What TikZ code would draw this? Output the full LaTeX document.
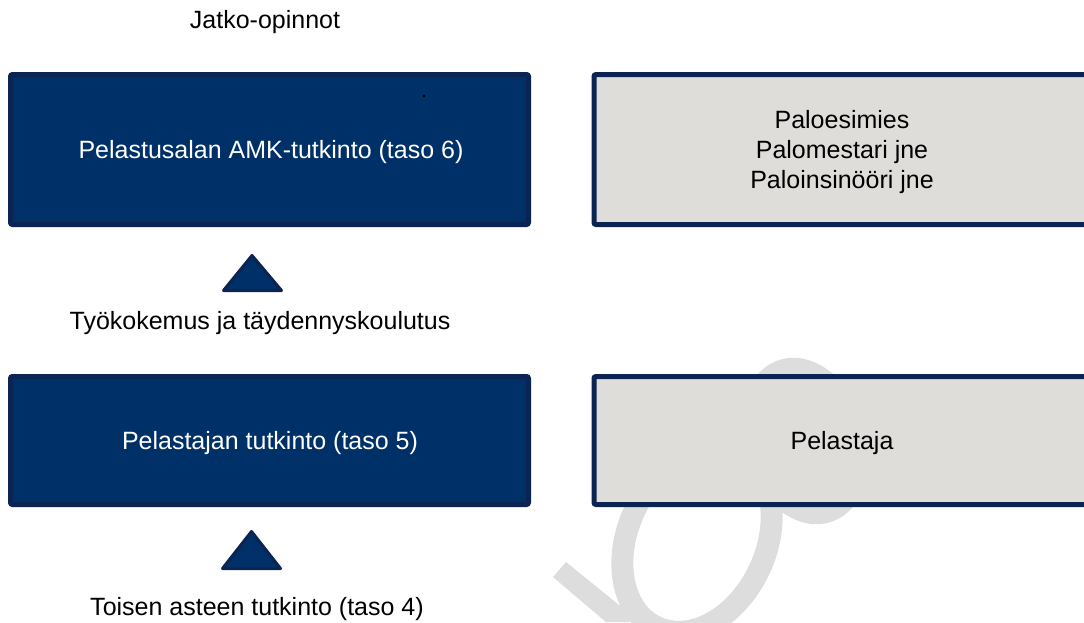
\documentclass[tikz,border=0pt]{standalone}
\usepackage{fontspec}
\setmainfont{Liberation Sans}
\definecolor{navy}{HTML}{003068}
\definecolor{navyline}{HTML}{0B2452}
\definecolor{boxgrey}{HTML}{DEDDD9}
\definecolor{wmgrey}{HTML}{DDDDDD}
\tikzset{
  lbl/.style={font=\fontsize{25}{30.5}\selectfont, inner sep=0pt, anchor=base},
  darkbox/.style={draw=navyline, fill=navy, line width=5pt, rounded corners=2pt, minimum width=518pt, inner sep=0pt},
  greybox/.style={draw=navyline, fill=boxgrey, line width=5pt, rounded corners=2pt, minimum width=519pt, inner sep=0pt},
  uptri/.style={draw=navyline, fill=navy, line width=3pt, line join=round},
  wm/.style={fill=wmgrey}
}
\begin{document}
\begin{tikzpicture}[x=1pt,y=-1pt]
\useasboundingbox (0,0) rectangle (1084,622);
\clip (0,0) rectangle (1084,622);
\fill[white] (0,0) rectangle (1084,622);
% watermark
\begin{scope}[shift={(697,540)}, rotate=-25]
\fill[wm, even odd rule] (0,0) ellipse [x radius=80, y radius=108]
                         (0,0) ellipse [x radius=58, y radius=85];
\end{scope}
\begin{scope}[shift={(805,441)}, rotate=17.5]
\fill[wm] (0,0) ellipse [x radius=62, y radius=85];
\end{scope}
\fill[wm] (553,577) -- (566,562) -- (640,622) -- (606,622) -- cycle;
% boxes
\node[darkbox, minimum height=150pt] (amk) at (269.5,149.5) {};
\node[greybox, minimum height=150pt] (ura2) at (853.5,149.5) {};
\node[darkbox, minimum height=128pt] (pel) at (269.5,440.5) {};
\node[greybox, minimum height=128pt] (ura1) at (853.5,440.5) {};
\fill[black] (423,95) rectangle (425,97);
% triangles
\coordinate (t1a) at (252,255.5);
\coordinate (t1l) at (223.5,290.5);
\coordinate (t1r) at (281.5,290.5);
\draw[uptri] (t1a) -- (t1r) -- (t1l) -- cycle;
\coordinate (t2a) at (251.5,531.5);
\coordinate (t2l) at (222.5,568.5);
\coordinate (t2r) at (280.5,568.5);
\draw[uptri] (t2a) -- (t2r) -- (t2l) -- cycle;
% texts
\node[lbl] (jatko) at (265,28) {Jatko-opinnot};
\node[lbl, text=white] (amkt) at (271,158) {Pelastusalan AMK-tutkinto (taso 6)};
\node[lbl] (l1) at (842,128) {Paloesimies};
\node[lbl] (l2) at (842,158) {Palomestari jne};
\node[lbl] (l3) at (842,188) {Paloinsinööri jne};
\node[lbl] (tyo) at (260,329) {Työkokemus ja täydennyskoulutus};
\node[lbl, text=white] (pelt) at (270,449) {Pelastajan tutkinto (taso 5)};
\node[lbl] (pela) at (842,449) {Pelastaja};
\node[lbl] (toisen) at (257,615) {Toisen asteen tutkinto (taso 4)};
\end{tikzpicture}
\end{document}
